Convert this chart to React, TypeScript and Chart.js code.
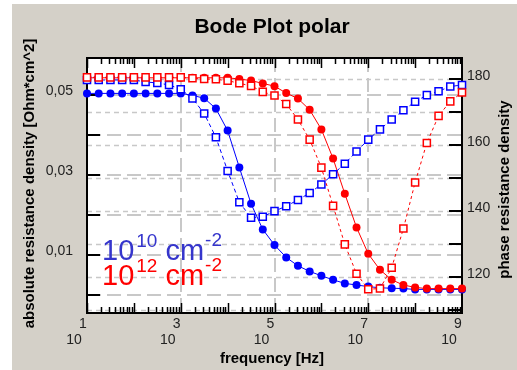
import React, { useEffect, useRef } from 'react';
import { Chart, registerables } from 'chart.js';
Chart.register(...registerables);

const W = 517;
const H = 370;

// frequency [Hz], 4 points per decade from 10^1 to 10^9
const freqs = [
  10, 17.78, 31.62, 56.23, 100, 177.8, 316.2, 562.3,
  1e3, 1.778e3, 3.162e3, 5.623e3, 1e4, 1.778e4, 3.162e4, 5.623e4,
  1e5, 1.778e5, 3.162e5, 5.623e5, 1e6, 1.778e6, 3.162e6, 5.623e6,
  1e7, 1.778e7, 3.162e7, 5.623e7, 1e8, 1.778e8, 3.162e8, 5.623e8, 1e9,
];

// absolute resistance density [Ohm*cm^2]
const absZ_1e10 = [
  0.0504, 0.0504, 0.0504, 0.0504, 0.0504, 0.0504, 0.0504, 0.0504, 0.0504,
  0.0499, 0.0492, 0.0466, 0.0411, 0.0319, 0.0228, 0.0164, 0.0125, 0.0094,
  0.0073, 0.0059, 0.0048, 0.0038, 0.0029, 0.0025, 0.0021, 0.0018, 0.0017,
  0.0016, 0.0014, 0.0014, 0.0014, 0.0014, 0.0014,
];
const absZ_1e12 = [
  0.0543, 0.0543, 0.0543, 0.0543, 0.0543, 0.0543, 0.0543, 0.0543, 0.0543,
  0.0543, 0.0543, 0.0543, 0.0543, 0.054, 0.0536, 0.0529, 0.0522, 0.0505,
  0.0491, 0.0463, 0.0414, 0.0341, 0.0253, 0.0169, 0.0103, 0.0063, 0.0038,
  0.0025, 0.0019, 0.0016, 0.0016, 0.0016, 0.0016,
];

// phase resistance density [deg]
const phase_1e10 = [
  179.7, 179.7, 179.7, 179.7, 179.7, 179.1, 178.8, 178.2, 176.9,
  174.1, 169.5, 162.3, 152.1, 142.6, 137.9, 138.2, 139.9, 141.4,
  143.3, 145.4, 148, 151.1, 154.3, 158, 161.6, 164.7, 167.7,
  170.5, 173.1, 175.1, 176.3, 177.7, 178.2,
];
const phase_1e12 = [
  180.5, 180.5, 180.5, 180.5, 180.5, 180.5, 180.5, 180.5, 180.5,
  180.2, 180, 179.9, 179.5, 178.7, 177.9, 176.1, 175, 172.4,
  167.7, 161.6, 153.1, 141.5, 129.8, 120.9, 116.2, 116.4, 122.7,
  134.6, 148.6, 160.6, 168.8, 173.2, 175.9,
];

// axes
const leftTickValues = [0, 0.01, 0.02, 0.03, 0.04, 0.05];
const leftLabelValues = [0.01, 0.03, 0.05];
const leftLabels = ['0,01', '0,03', '0,05'];
const rightTickValues = [110, 120, 130, 140, 150, 160, 170, 180];
const rightLabelValues = [120, 140, 160, 180];
const rightLabels = ['120', '140', '160', '180'];
const xLabelExps = [1, 3, 5, 7, 9];
const xGridExps = [3, 5, 7];

const title = 'Bode Plot polar';
const xTitle = 'frequency [Hz]';
const yTitle = 'absolute resistance density [Ohm*cm^2]';
const y1Title = 'phase resistance density';
const legendRows = [
  { exp: '10', color: '#3535cc' },
  { exp: '12', color: '#ff0000' },
];

const FONT = '"Liberation Sans", Arial, sans-serif';
const BLUE = '#0000ff';
const RED = '#ff0000';

const pts = (arr: number[]) => freqs.map((f, i) => ({ x: f, y: arr[i] }));

const decoPlugin = {
  id: 'deco',
  beforeDraw(chart: any) {
    const { ctx, chartArea: a } = chart;
    ctx.save();
    ctx.fillStyle = '#ffffff';
    ctx.fillRect(0, 0, W, H);
    ctx.fillStyle = '#d4d0c8';
    ctx.fillRect(12, 4, W - 12, H - 4);
    ctx.fillStyle = '#ffffff';
    ctx.fillRect(a.left, a.top, a.right - a.left, a.bottom - a.top);
    ctx.restore();
  },
  beforeDatasetsDraw(chart: any) {
    const { ctx, chartArea: a, scales } = chart;
    const sx = scales.x, yl = scales.y, yr = scales.y1;
    const line = (x1: number, y1: number, x2: number, y2: number) => {
      ctx.beginPath();
      ctx.moveTo(x1, y1);
      ctx.lineTo(x2, y2);
      ctx.stroke();
    };
    ctx.save();
    // long-dashed grid
    ctx.strokeStyle = '#c8c8c8';
    ctx.lineWidth = 2;
    ctx.setLineDash([14, 6]);
    for (const v of leftTickValues) {
      const y = Math.round(yl.getPixelForValue(v));
      line(a.left, y, a.right, y);
    }
    for (const e of xGridExps) {
      const x = Math.round(sx.getPixelForValue(Math.pow(10, e)));
      line(x, a.top, x, a.bottom);
    }
    // short-dashed grid
    ctx.lineWidth = 1.5;
    ctx.setLineDash([5, 4]);
    for (const v of rightTickValues) {
      const y = Math.round(yr.getPixelForValue(v)) + 0.5;
      line(a.left, y, a.right, y);
    }
    ctx.setLineDash([]);
    // ticks
    ctx.strokeStyle = '#000000';
    ctx.lineWidth = 2;
    for (const v of leftTickValues) {
      const y = Math.round(yl.getPixelForValue(v));
      line(a.left, y, a.left + 13, y);
    }
    for (const v of rightTickValues) {
      const y = Math.round(yr.getPixelForValue(v));
      line(a.right - 13, y, a.right, y);
    }
    ctx.lineWidth = 1.5;
    for (let e = 1; e < 9; e++) {
      for (let m = 1; m <= 9; m++) {
        const x = Math.round(sx.getPixelForValue(m * Math.pow(10, e))) + 0.5;
        const len = m === 1 ? 10 : 6;
        line(x, a.top, x, a.top + len);
        line(x, a.bottom, x, a.bottom - len);
      }
    }
    // border
    ctx.lineWidth = 2;
    ctx.strokeRect(a.left, a.top, a.right - a.left, a.bottom - a.top);
    ctx.restore();
  },
  afterDraw(chart: any) {
    const { ctx, chartArea: a, scales } = chart;
    const sx = scales.x, yl = scales.y, yr = scales.y1;
    ctx.save();
    ctx.fillStyle = '#000000';
    // title
    ctx.font = `bold 21px ${FONT}`;
    ctx.textAlign = 'center';
    ctx.textBaseline = 'middle';
    ctx.fillText(title, 272, 27);
    // x title
    ctx.font = `bold 15px ${FONT}`;
    ctx.fillText(xTitle, 272, 359);
    // y titles
    ctx.save();
    ctx.translate(30, (a.top + a.bottom) / 2 - 2);
    ctx.rotate(-Math.PI / 2);
    ctx.fillText(yTitle, 0, 0);
    ctx.restore();
    ctx.save();
    ctx.translate(505, (a.top + a.bottom) / 2 + 4);
    ctx.rotate(-Math.PI / 2);
    ctx.fillText(y1Title, 0, 0);
    ctx.restore();
    // tick labels
    ctx.fillStyle = '#222222';
    ctx.font = `14px ${FONT}`;
    ctx.textBaseline = 'alphabetic';
    ctx.textAlign = 'right';
    leftLabelValues.forEach((v, i) => {
      ctx.fillText(leftLabels[i], a.left - 14, yl.getPixelForValue(v));
    });
    ctx.textAlign = 'left';
    rightLabelValues.forEach((v, i) => {
      ctx.fillText(rightLabels[i], a.right + 5, yr.getPixelForValue(v) + 1);
    });
    ctx.textAlign = 'center';
    ctx.textBaseline = 'middle';
    for (const e of xLabelExps) {
      const x = sx.getPixelForValue(Math.pow(10, e));
      ctx.fillText(String(e), x - 4, 324);
      ctx.fillText('10', x - 13, 340);
    }
    // in-plot legend
    ctx.textAlign = 'left';
    ctx.textBaseline = 'alphabetic';
    legendRows.forEach((r, i) => {
      const base = 260 + i * 25;
      ctx.fillStyle = r.color;
      let x = 102;
      ctx.font = `29px ${FONT}`;
      ctx.fillText('10', x, base);
      x += ctx.measureText('10').width + 2;
      ctx.font = `19px ${FONT}`;
      ctx.fillText(r.exp, x, base - 13);
      x += ctx.measureText(r.exp).width;
      ctx.font = `29px ${FONT}`;
      x += ctx.measureText(' ').width;
      ctx.fillText('cm', x, base);
      x += ctx.measureText('cm').width + 1;
      ctx.font = `19px ${FONT}`;
      ctx.fillText('-2', x, base - 14);
    });
    ctx.restore();
  },
};

export default function App() {
  const ref = useRef<HTMLCanvasElement>(null);
  useEffect(() => {
    if (!ref.current) return;
    const chart = new Chart(ref.current, {
      type: 'line',
      data: {
        datasets: [
          {
            label: '|Z| 1e10',
            data: pts(absZ_1e10),
            yAxisID: 'y',
            borderColor: BLUE,
            backgroundColor: BLUE,
            borderWidth: 1,
            pointStyle: 'circle',
            pointRadius: 4,
            pointBorderWidth: 0,
            order: 4,
            clip: false,
          },
          {
            label: '|Z| 1e12',
            data: pts(absZ_1e12),
            yAxisID: 'y',
            borderColor: RED,
            backgroundColor: RED,
            borderWidth: 1,
            pointStyle: 'circle',
            pointRadius: 4,
            pointBorderWidth: 0,
            order: 3,
            clip: false,
          },
          {
            label: 'phase 1e10',
            data: pts(phase_1e10),
            yAxisID: 'y1',
            borderColor: BLUE,
            backgroundColor: '#ffffff',
            borderWidth: 1,
            borderDash: [4, 3],
            pointStyle: 'rect',
            pointRadius: 5,
            pointBorderWidth: 1.5,
            pointBorderColor: BLUE,
            pointBackgroundColor: '#ffffff',
            order: 2,
            clip: false,
          },
          {
            label: 'phase 1e12',
            data: pts(phase_1e12),
            yAxisID: 'y1',
            borderColor: RED,
            backgroundColor: '#ffffff',
            borderWidth: 1,
            borderDash: [3, 3],
            pointStyle: 'rect',
            pointRadius: 5,
            pointBorderWidth: 1.5,
            pointBorderColor: RED,
            pointBackgroundColor: '#ffffff',
            order: 1,
            clip: false,
          },
        ] as any,
      },
      options: {
        responsive: false,
        animation: false,
        events: [],
        layout: { padding: { left: 87, right: 55, top: 58, bottom: 57 } },
        plugins: {
          legend: { display: false },
          tooltip: { enabled: false },
          title: { display: false },
        },
        scales: {
          x: { type: 'logarithmic', min: 10, max: 1e9, display: false },
          y: { type: 'linear', position: 'left', min: -0.0045, max: 0.05925, display: false },
          y1: { type: 'linear', position: 'right', min: 108.98, max: 186.37, display: false },
        },
      } as any,
      plugins: [decoPlugin],
    });
    return () => chart.destroy();
  }, []);
  return (
    <div style={{ position: 'fixed', left: 0, top: 0, width: W, height: H }}>
      <canvas ref={ref} width={W} height={H} style={{ display: 'block', width: W, height: H }} />
    </div>
  );
}
